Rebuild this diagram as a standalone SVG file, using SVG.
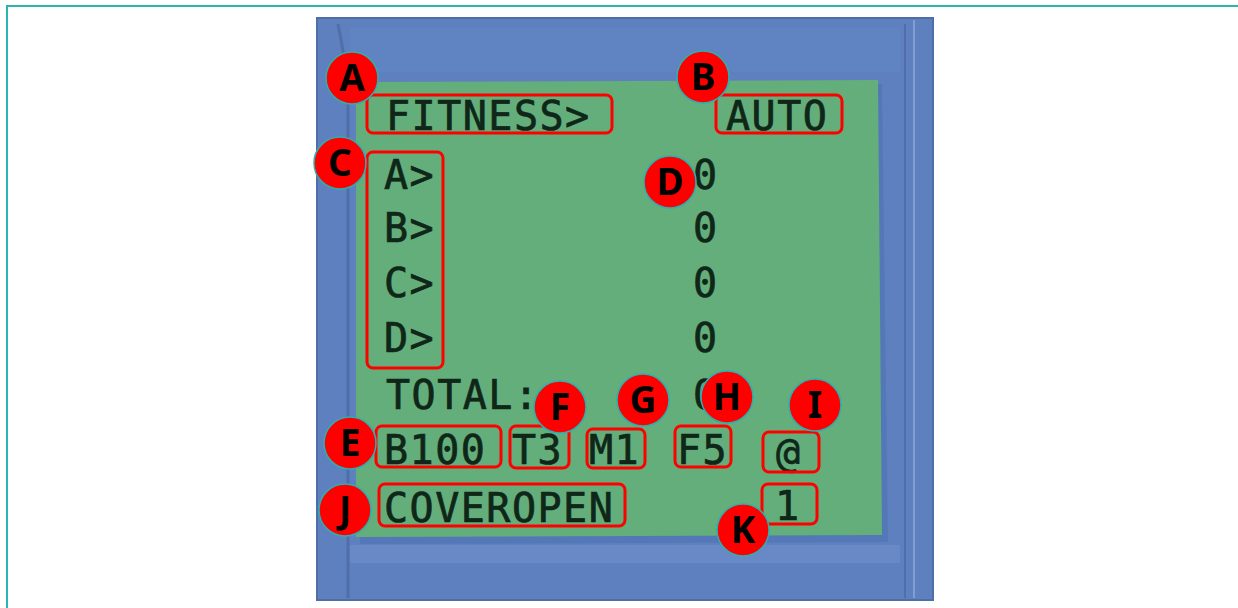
<svg xmlns="http://www.w3.org/2000/svg" width="1238" height="608" viewBox="0 0 1238 608">
<style>
.frame{fill:none;stroke:#2bb5b0;stroke-width:2}
.lcd{font-family:"DejaVu Sans Mono","Liberation Mono",monospace;font-size:40px;fill:#0f2618;stroke:#0f2618;stroke-width:0.7;letter-spacing:1.5px}
.box{fill:none;stroke:#ff0000;stroke-width:3;rx:6}
.badge circle{fill:#ff0000;stroke:#2ab0b0;stroke-width:1.5}
.badge text{font-family:"Noto Sans","Open Sans",sans-serif;font-weight:bold;font-size:37px;fill:#000;text-anchor:middle}
</style>
<rect x="0" y="0" width="1238" height="608" fill="#ffffff"/>
<path class="frame" d="M7 608 V6 H1238"/>
<g id="device">
<rect x="317" y="18" width="616" height="582" fill="#5e80bf"/>
<rect x="317" y="18" width="616" height="582" fill="none" stroke="#4e6ea8" stroke-width="2"/>
<path d="M338 24 Q343 50 348 80 L348 598" fill="none" stroke="#4a68a0" stroke-width="3" opacity="0.7"/>
<path d="M905 24 L905 598" fill="none" stroke="#4a68a0" stroke-width="2" opacity="0.7"/>
<path d="M914 20 L914 598" fill="none" stroke="#8aa4d6" stroke-width="2" opacity="0.8"/>
<rect x="350" y="545" width="550" height="18" fill="#6a8bc8" opacity="0.8"/>
<rect x="350" y="28" width="550" height="44" fill="#6385c4" opacity="0.6"/>
<polygon points="356,82 878,80 884,538 356,540" fill="#4f72b2" opacity="0.6" transform="translate(4,4)"/>
<polygon points="356,82 878,80 882,535 356,537" fill="#63ae7a"/>
</g>
<g id="lcd-text" class="lcd">
<text x="386" y="130">FITNESS&gt;</text>
<text x="726" y="130">AUTO</text>
<text x="384" y="189">A&gt;</text>
<text x="384" y="242">B&gt;</text>
<text x="384" y="297">C&gt;</text>
<text x="384" y="352">D&gt;</text>
<text x="693" y="189">0</text>
<text x="693" y="242">0</text>
<text x="693" y="297">0</text>
<text x="693" y="352">0</text>
<text x="386" y="409">TOTAL:</text>
<text x="693" y="409">0</text>
<text x="384" y="464">B100</text>
<text x="512" y="464">T3</text>
<text x="589" y="464">M1</text>
<text x="677" y="464">F5</text>
<text x="776" y="467">@</text>
<text x="775" y="520">1</text>
<text x="384" y="522">COVEROPEN</text>
</g>
<g id="boxes">
<rect id="box-A" class="box" x="367" y="95" width="245" height="38"/>
<rect id="box-B" class="box" x="716" y="95" width="126" height="38"/>
<rect id="box-C" class="box" x="367" y="152" width="76" height="216"/>
<rect id="box-E" class="box" x="376" y="426" width="125" height="41"/>
<rect id="box-F" class="box" x="510" y="426" width="59" height="42"/>
<rect id="box-G" class="box" x="587" y="429" width="58" height="39"/>
<rect id="box-H" class="box" x="675" y="426" width="56" height="41"/>
<rect id="box-I" class="box" x="763" y="432" width="56" height="40"/>
<rect id="box-J" class="box" x="379" y="484" width="246" height="42"/>
<rect id="box-K" class="box" x="762" y="484" width="55" height="40"/>
</g>
<g id="badge-A" class="badge"><circle cx="352" cy="78" r="26"/><text x="352" y="91">A</text></g>
<g id="badge-B" class="badge"><circle cx="703" cy="77" r="26"/><text x="703" y="90">B</text></g>
<g id="badge-C" class="badge"><circle cx="340" cy="163" r="26"/><text x="340" y="176">C</text></g>
<g id="badge-D" class="badge"><circle cx="670" cy="182" r="26"/><text x="670" y="195">D</text></g>
<g id="badge-E" class="badge"><circle cx="350" cy="443" r="26"/><text x="350" y="456">E</text></g>
<g id="badge-F" class="badge"><circle cx="560" cy="407" r="26"/><text x="560" y="420">F</text></g>
<g id="badge-G" class="badge"><circle cx="643" cy="400" r="26"/><text x="643" y="413">G</text></g>
<g id="badge-H" class="badge"><circle cx="727" cy="397" r="26"/><text x="727" y="410">H</text></g>
<g id="badge-I" class="badge"><circle cx="815" cy="405" r="26"/><text x="815" y="418">I</text></g>
<g id="badge-J" class="badge"><circle cx="345" cy="510" r="26"/><text x="345" y="523">J</text></g>
<g id="badge-K" class="badge"><circle cx="743" cy="530" r="26"/><text x="743" y="543">K</text></g>
</svg>
